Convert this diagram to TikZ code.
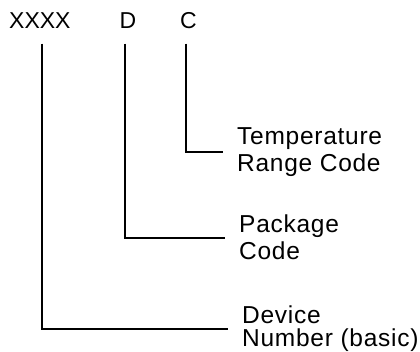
\documentclass[tikz,border=0pt]{standalone}
\usepackage{fontspec}
\setmainfont{Liberation Sans}
\newfontfamily\descfont[LetterSpace=3]{Liberation Sans}
\usetikzlibrary{positioning}
\tikzstyle{code} = [inner sep=0pt, font=\fontsize{23}{27}\selectfont]
\tikzstyle{desc} = [anchor=west, align=left, inner xsep=14pt, inner ysep=0pt, font=\descfont\fontsize{24.5}{27}\selectfont]
\tikzstyle{lead} = [line width=2pt]

\begin{document}
\begin{tikzpicture}[x=1pt, y=-1pt]
\useasboundingbox (0,0) rectangle (420,351);
\node[code, anchor=base west] (xxxx) at (9,28.3) {XXXX};
\node[code, anchor=base] (d) at (128,28.3) {D};
\node[code, anchor=base] (c) at (188.5,28.3) {C};

\node[desc] (temp) at (223,152) {Temperature\\Range Code};
\node[desc] (pkg) at (225,237.5) {Package\\Code};
\node[desc, font=\descfont\fontsize{24.5}{23.5}\selectfont] (dev) at (228,328.5) {Device\\Number (basic)};

\draw[lead] ([xshift=-3pt,yshift=-15pt]c.south) |- (temp.west);
\draw[lead] ([xshift=-3pt,yshift=-15pt]d.south) |- (pkg.west);
\draw[lead] ([xshift=2pt,yshift=-15pt]xxxx.south) |- (dev.west);
\end{tikzpicture}
\end{document}
